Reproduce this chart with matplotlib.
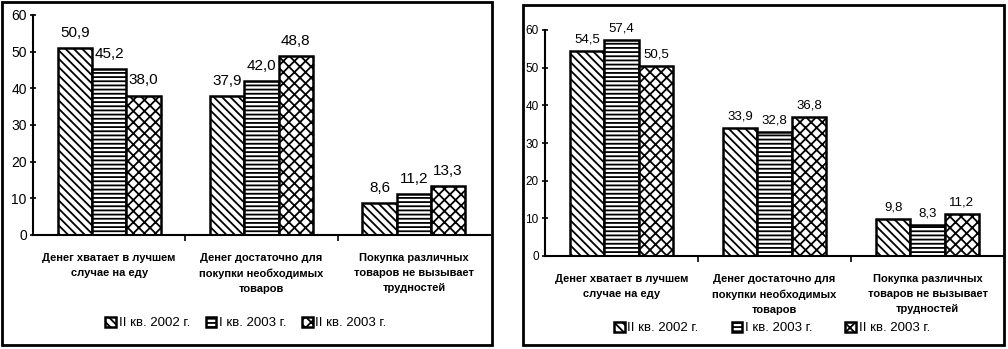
import matplotlib
matplotlib.use("Agg")
import matplotlib.pyplot as plt
from matplotlib.patches import Rectangle
from matplotlib.ticker import FixedLocator, NullFormatter
import numpy as np

plt.rcParams['font.family'] = ['Liberation Sans', 'DejaVu Sans']
plt.rcParams['hatch.linewidth'] = 1.3

categories = ["Денег хватает в лучшем\nслучае на еду",
              "Денег достаточно для\nпокупки необходимых\nтоваров",
              "Покупка различных\nтоваров не вызывает\nтрудностей"]
series_names = ["II кв. 2002 г.", "I кв. 2003 г.", "II кв. 2003 г."]
left_values = [[50.9, 37.9, 8.6],
               [45.2, 42.0, 11.2],
               [38.0, 48.8, 13.3]]
right_values = [[54.5, 33.9, 9.8],
                [57.4, 32.8, 8.3],
                [50.5, 36.8, 11.2]]
yticks = [0, 10, 20, 30, 40, 50, 60]
hatches = ['\\' * 4, '-' * 4, 'x' * 3]

W, H = 1008, 349
fig = plt.figure(figsize=(W / 100, H / 100), dpi=100)

def px_axes(x0, x1, y_top, y_bot):
    return fig.add_axes([x0 / W, (H - y_bot) / H, (x1 - x0) / W, (y_bot - y_top) / H])

# panel borders
for (x0, y0, x1, y1) in [(2, 2, 492, 345), (523, 5, 1004, 345)]:
    fig.patches.append(Rectangle((x0 / W, (H - y1) / H), (x1 - x0) / W, (y1 - y0) / H,
                                 transform=fig.transFigure, fill=False,
                                 edgecolor='black', linewidth=2))

def draw(ax, values, tick_fs, val_fs, lab_offset, leg_y, leg_sep, leg_x):
    x = np.arange(len(categories))
    bw = 0.225
    bars_all = []
    for i, (vals, h) in enumerate(zip(values, hatches)):
        bars = ax.bar(x + (i - 1) * bw, vals, bw, facecolor='white', edgecolor='black',
                      hatch=h, linewidth=1.8, label=series_names[i])
        bars_all.append(bars)
        for b, v in zip(bars, vals):
            ax.annotate(f"{v:.1f}".replace('.', ','),
                        (b.get_x() + b.get_width() / 2, v),
                        xytext=(0, lab_offset), textcoords='offset points',
                        ha='center', va='bottom', fontsize=val_fs)
    ax.set_xlim(-0.5, 2.5)
    ax.set_ylim(0, 60)
    ax.set_yticks(yticks)
    ax.tick_params(axis='y', labelsize=tick_fs, direction='inout', length=5, width=1.2, pad=2)
    ax.set_xticks(x)
    ax.set_xticklabels(categories, fontsize=8, fontweight='bold', linespacing=1.65)
    ax.tick_params(axis='x', length=0, pad=13)
    ax.xaxis.set_minor_locator(FixedLocator([0.5, 1.5]))
    ax.xaxis.set_minor_formatter(NullFormatter())
    ax.tick_params(axis='x', which='minor', length=4, width=1.2)
    for s in ['top', 'right']:
        ax.spines[s].set_visible(False)
    for s in ['left', 'bottom']:
        ax.spines[s].set_linewidth(1.5)
    ax.patch.set_alpha(0)
    leg = fig.legend(handles=bars_all, labels=series_names, loc='center',
                     bbox_to_anchor=(leg_x / W, (H - leg_y) / H), ncol=3, frameon=False,
                     fontsize=9.5, handlelength=0.8, handleheight=0.8, handletextpad=0.2,
                     columnspacing=leg_sep, borderaxespad=0)
    return leg

ax1 = px_axes(33, 490, 15, 235)
draw(ax1, left_values, 10, 11, 6, 323, 1.2, 246)
ax2 = px_axes(545, 1004, 30, 256)
draw(ax2, right_values, 8.5, 9.5, 4, 328, 2.5, 772)

fig.savefig("out.png", dpi=100)
